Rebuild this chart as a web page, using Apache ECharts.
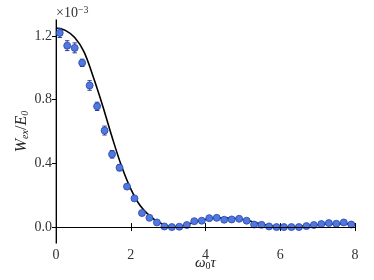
<!DOCTYPE html>
<html>
<head>
<meta charset="utf-8">
<script src="https://cdn.jsdelivr.net/npm/echarts@6/dist/echarts.min.js"></script>
<style>
html,body{margin:0;padding:0;background:#fff;}
#c{width:374px;height:280px;}
</style>
</head>
<body>
<div id="c"></div>
<script>
// measured points (units of 1e-3)
var tau = [0.1,0.3,0.5,0.7,0.9,1.1,1.3,1.5,1.7,1.9,2.1,2.3,2.5,2.7,2.9,3.1,3.3,3.5,3.7,3.9,
           4.1,4.3,4.5,4.7,4.9,5.1,5.3,5.5,5.7,5.9,6.1,6.3,6.5,6.7,6.9,7.1,7.3,7.5,7.7,7.9];
var wMeas = [1.219,1.139,1.125,1.031,0.889,0.758,0.606,0.457,0.373,0.254,0.180,0.088,0.058,0.029,0.004,0.000,0.002,0.013,0.037,0.040,
             0.056,0.058,0.046,0.048,0.052,0.040,0.016,0.014,0.004,0.000,0.000,0.000,0.000,0.006,0.013,0.019,0.025,0.021,0.029,0.016];
var wErr = [0.029,0.031,0.031,0.023,0.030,0.026,0.028,0.024,0.020,0.015,0.012,0.010,0.010,0.010,0.010,0.010,0.010,0.010,0.010,0.010,
            0.010,0.010,0.010,0.010,0.010,0.010,0.010,0.010,0.010,0.010,0.010,0.010,0.010,0.010,0.010,0.010,0.010,0.010,0.010,0.010];
// theory curve
var tauLine = [0,0.25,0.5,0.75,1.0,1.25,1.5,1.75,2.0,2.25,2.5,2.75,3.0,3.25,3.5,3.75,4.0,4.25,4.5,4.75,5.0,5.25,5.5,5.75,6.0,6.25,6.5,6.75,7.0,7.25,7.5,7.75,8.0];
var wLine = [1.25,1.235,1.19,1.10,0.94,0.76,0.565,0.385,0.24,0.135,0.072,0.03,0.007,0.004,0.016,0.033,0.048,0.056,0.058,0.055,0.047,0.034,0.019,0.008,0.002,0.001,0.004,0.010,0.015,0.019,0.020,0.020,0.019];
var xTicks = [0,2,4,6,8];
var yTicks = [0.0,0.4,0.8,1.2];

var chart = echarts.init(document.getElementById('c'), null, {renderer:'canvas'});
var serif = 'Liberation Serif';
var pts = tau.map(function(t,i){return [t,wMeas[i]];});
var errs = tau.map(function(t,i){return [t,wMeas[i],wErr[i]];});
var line = tauLine.map(function(t,i){return [t,wLine[i]];});

chart.setOption({
  animation:false,
  grid:{left:56,right:19,top:20,bottom:37,outerBoundsMode:'none',containLabel:false},
  graphic:[{
    type:'text', left:56, top:5,
    style:{text:'{a|×10}{b|−3}', rich:{a:{fontFamily:serif,fontSize:14,fill:'#333'},b:{fontFamily:serif,fontSize:10,fill:'#333',verticalAlign:'top',padding:[0,0,6,0]}}}
  }],
  xAxis:[{
    type:'value', min:0, max:8, interval:2, position:'bottom',
    axisLine:{show:true,lineStyle:{color:'#000',width:1}},
    axisTick:{show:true,inside:true,length:4,lineStyle:{color:'#000'},customValues:xTicks},
    axisLabel:{color:'#333',fontFamily:serif,fontSize:14,margin:5,customValues:xTicks},
    splitLine:{show:false},
    name:'{i|ω}{s|0}{i|τ}', nameLocation:'middle', nameGap:12, nameMoveOverlap:false,
    nameTextStyle:{rich:{i:{fontFamily:serif,fontStyle:'italic',fontSize:15,color:'#222'},s:{fontFamily:serif,fontSize:10,color:'#222',verticalAlign:'bottom',padding:[6,0,0,0]}}}
  },{
    type:'value', min:0, max:8, interval:2, position:'top',
    axisLine:{show:true,lineStyle:{color:'#000',width:1}},
    axisTick:{show:true,inside:true,length:4,lineStyle:{color:'#000'},customValues:xTicks},
    axisLabel:{show:false}, splitLine:{show:false}
  }],
  yAxis:[{
    type:'value', min:-0.1, max:1.3, position:'left',
    axisLine:{show:true,lineStyle:{color:'#808080',width:1.5}},
    axisTick:{show:true,inside:false,length:4,lineStyle:{color:'#555'},customValues:yTicks},
    axisLabel:{color:'#333',fontFamily:serif,fontSize:14,margin:4,customValues:yTicks,formatter:function(v){return v.toFixed(1);}},
    splitLine:{show:false},
    name:'{i|W}{s|ex}{n|/}{i|E}{s|0}', nameLocation:'middle', nameGap:26, nameRotate:90, nameMoveOverlap:false,
    nameTextStyle:{rich:{i:{fontFamily:serif,fontStyle:'italic',fontSize:16,color:'#222'},n:{fontFamily:serif,fontSize:16,color:'#222'},s:{fontFamily:serif,fontStyle:'italic',fontSize:10,color:'#222',verticalAlign:'bottom',padding:[7,0,0,0]}}}
  },{
    type:'value', min:-0.1, max:1.3, position:'right',
    axisLine:{show:true,lineStyle:{color:'#000',width:1}},
    axisTick:{show:true,inside:true,length:4,lineStyle:{color:'#000'},customValues:yTicks},
    axisLabel:{show:false}, splitLine:{show:false}
  }],
  series:[{
    type:'line', data:line, smooth:0.35, showSymbol:false, z:2,
    lineStyle:{color:'#000',width:1.6},
    markLine:{silent:true,symbol:['none','none'],label:{show:false},lineStyle:{color:'#000',width:1,type:'solid'},data:[{yAxis:0}]}
  },{
    type:'custom', z:3,
    renderItem:function(params,api){
      var x=api.value(0), y=api.value(1), e=api.value(2);
      var p1=api.coord([x,y-e]), p2=api.coord([x,y+e]);
      var c=2.2, st={stroke:'#2a3a9e',lineWidth:1};
      return {type:'group',children:[
        {type:'line',shape:{x1:p1[0],y1:p1[1],x2:p2[0],y2:p2[1]},style:st},
        {type:'line',shape:{x1:p1[0]-c,y1:p1[1],x2:p1[0]+c,y2:p1[1]},style:st},
        {type:'line',shape:{x1:p2[0]-c,y1:p2[1],x2:p2[0]+c,y2:p2[1]},style:st}
      ]};
    },
    data:errs
  },{
    type:'scatter', data:pts, symbol:'circle', symbolSize:7, z:4,
    itemStyle:{color:'#5079e0',borderColor:'#2b45a8',borderWidth:0.8,opacity:1}
  }]
});
</script>
</body>
</html>
